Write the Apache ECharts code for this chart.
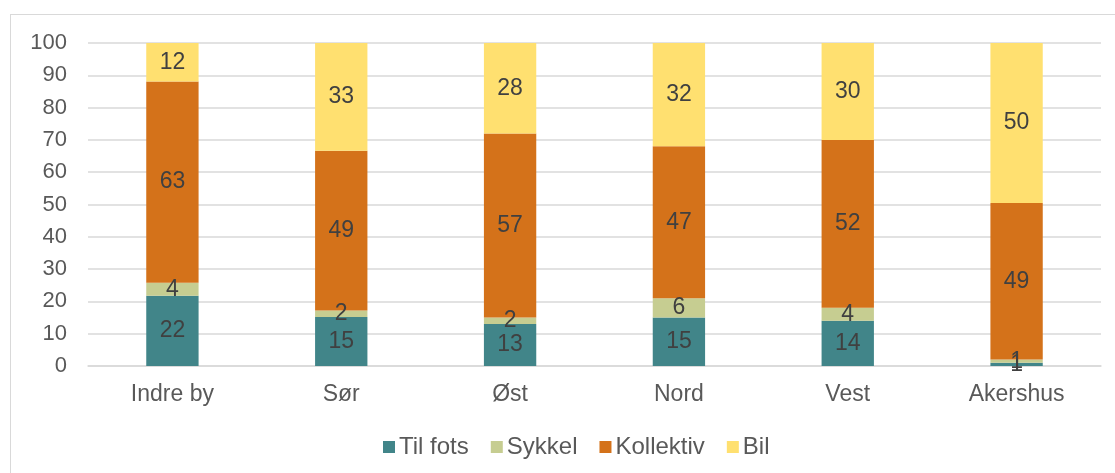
<!DOCTYPE html>
<html>
<head>
<meta charset="utf-8">
<script src="https://cdn.jsdelivr.net/npm/echarts@6/dist/echarts.min.js"></script>
<style>
  html, body { margin: 0; padding: 0; background: #fff; overflow: hidden; }
  #frame { position: absolute; left: 10px; top: 14px; width: 1200px; height: 600px;
           border-left: 1.5px solid #d9d9d9; border-top: 1.5px solid #d9d9d9; }
  #main { position: absolute; left: 0; top: 0; width: 1115px; height: 473px; }
</style>
</head>
<body>
<div id="frame"></div>
<div id="main"></div>
<script>
var categories = ['Indre by', 'Sør', 'Øst', 'Nord', 'Vest', 'Akershus'];
var tilFots   = [22, 15, 13, 15, 14, 1];
var sykkel    = [4, 2, 2, 6, 4, 1];
var kollektiv = [63, 49, 57, 47, 52, 49];
var bil       = [12, 33, 28, 32, 30, 50];
var yTicks    = [0, 10, 20, 30, 40, 50, 60, 70, 80, 90, 100];

// 100 % stablet, som i Excel: hoyden er andel, etiketten viser verdien
var totals = categories.map(function (c, i) {
    return tilFots[i] + sykkel[i] + kollektiv[i] + bil[i];
});
function share(arr) {
    return arr.map(function (v, i) { return { value: v / totals[i] * 100, raw: v }; });
}

var font = 'Liberation Sans, Arial, sans-serif';

function makeSeries(name, arr, color) {
    return {
        name: name,
        type: 'bar',
        stack: 'total',
        barWidth: '31%',
        data: share(arr),
        itemStyle: { color: color },
        label: {
            show: true,
            position: 'inside',
            color: '#404040',
            fontSize: 23,
            fontFamily: font,
            formatter: function (p) { return p.data.raw; }
        }
    };
}

var myChart = echarts.init(document.getElementById('main'));
var option = {
    animation: false,
    grid: { left: 88, right: 14, top: 43, bottom: 107 },
    legend: {
        top: 430,
        left: 378,
        itemWidth: 12,
        itemHeight: 12,
        itemGap: 22,
        icon: 'rect',
        textStyle: { color: '#595959', fontSize: 24, fontFamily: font, padding: [0, 0, 0, -1] },
        data: ['Til fots', 'Sykkel', 'Kollektiv', 'Bil']
    },
    xAxis: {
        type: 'category',
        data: categories,
        axisLine: { lineStyle: { color: '#d9d9d9', width: 1.5 } },
        axisTick: { show: false },
        axisLabel: { color: '#595959', fontSize: 23, fontFamily: font, margin: 17 }
    },
    yAxis: {
        type: 'value',
        min: yTicks[0],
        max: yTicks[yTicks.length - 1],
        interval: 10,
        axisLine: { show: false },
        axisTick: { show: false },
        splitLine: { lineStyle: { color: '#d9d9d9', width: 1.5 } },
        axisLabel: { color: '#595959', fontSize: 22, fontFamily: font, margin: 21 }
    },
    series: [
        makeSeries('Til fots', tilFots, '#418589'),
        makeSeries('Sykkel', sykkel, '#c6cd91'),
        makeSeries('Kollektiv', kollektiv, '#d4721a'),
        makeSeries('Bil', bil, '#ffe070')
    ]
};
myChart.setOption(option);
</script>
</body>
</html>
